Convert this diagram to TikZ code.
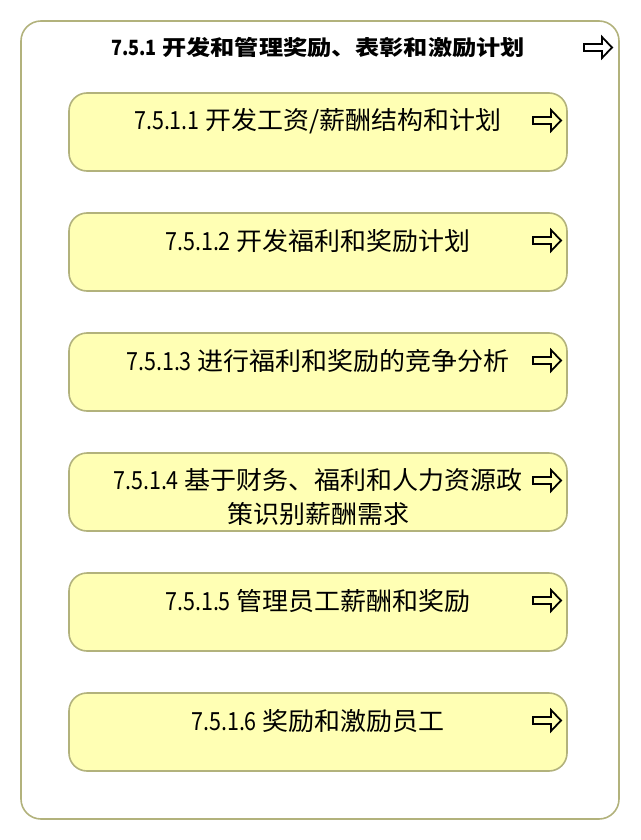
\documentclass[tikz,border=0pt]{standalone}
\usepackage{fontspec}
\newfontfamily\cjk[FakeStretch=1.15]{Noto Sans CJK SC}
\newfontfamily\taskfont[FakeStretch=1.04]{Noto Sans CJK SC}
\newfontfamily\numfont[FakeStretch=0.86]{Noto Sans CJK SC}
\usetikzlibrary{positioning}
\definecolor{edge}{HTML}{B2B27C}
\definecolor{taskfill}{HTML}{FFFFB4}

\begin{document}
\begin{tikzpicture}[
	x               = 1pt,
	y               = -1pt,
	group/.style    = {draw=edge, line width=1.6pt, rounded corners=20pt, outer sep=0pt,
	                   minimum width=598pt, minimum height=798pt},
	task/.style     = {draw=edge, fill=taskfill, line width=1.6pt, rounded corners=18pt, outer sep=0pt,
	                   minimum width=498pt, minimum height=78pt},
	tasktext/.style = {inner sep=0pt, anchor=base, align=center, font=\taskfont\fontsize{25}{34}\selectfont},
	icon/.style     = {draw=black, line width=1.8pt},
	goicon/.pic     = {\draw[icon] (0,-3.5) -- (18,-3.5) -- (18,-10.5) -- (28,0)
	                   -- (18,10.5) -- (18,3.5) -- (0,3.5) -- cycle;}]
	  \useasboundingbox (0,0) rectangle (640,840);
	  % outer group
	  \node [group, anchor=north west] (group) at (21,21) {};
	  \node [inner sep=0pt, anchor=base, font=\cjk\bfseries\fontsize{21}{26}\selectfont]
	        (title) at ([xshift=-2pt, yshift=-35pt]group.north) {{\numfont 7.5.1} 开发和管理奖励、表彰和激励计划};
	  \pic at ([xshift=-35pt, yshift=-26.5pt]group.north east) {goicon};
	  % tasks
	  \node [task, anchor=north west] (task1) at (69,93) {};
	  \node [task, below=42pt of task1] (task2) {};
	  \node [task, below=42pt of task2] (task3) {};
	  \node [task, below=42pt of task3] (task4) {};
	  \node [task, below=42pt of task4] (task5) {};
	  \node [task, below=42pt of task5] (task6) {};
	  \node [tasktext] (text1) at ([yshift=-37pt]task1.north) {{\numfont 7.5.1.1} 开发工资/薪酬结构和计划};
	  \node [tasktext] (text2) at ([yshift=-37pt]task2.north) {{\numfont 7.5.1.2} 开发福利和奖励计划};
	  \node [tasktext] (text3) at ([yshift=-37pt]task3.north) {{\numfont 7.5.1.3} 进行福利和奖励的竞争分析};
	  \node [tasktext] (text4) at ([yshift=-70pt]task4.north) {{\numfont 7.5.1.4} 基于财务、福利和人力资源政\\策识别薪酬需求};
	  \node [tasktext] (text5) at ([yshift=-37pt]task5.north) {{\numfont 7.5.1.5} 管理员工薪酬和奖励};
	  \node [tasktext] (text6) at ([yshift=-37pt]task6.north) {{\numfont 7.5.1.6} 奖励和激励员工};
	  \pic at ([xshift=-34pt, yshift=-27.5pt]task1.north east) {goicon};
	  \pic at ([xshift=-34pt, yshift=-27.5pt]task2.north east) {goicon};
	  \pic at ([xshift=-34pt, yshift=-27.5pt]task3.north east) {goicon};
	  \pic at ([xshift=-34pt, yshift=-27.5pt]task4.north east) {goicon};
	  \pic at ([xshift=-34pt, yshift=-27.5pt]task5.north east) {goicon};
	  \pic at ([xshift=-34pt, yshift=-27.5pt]task6.north east) {goicon};
	\end{tikzpicture}
\end{document}
